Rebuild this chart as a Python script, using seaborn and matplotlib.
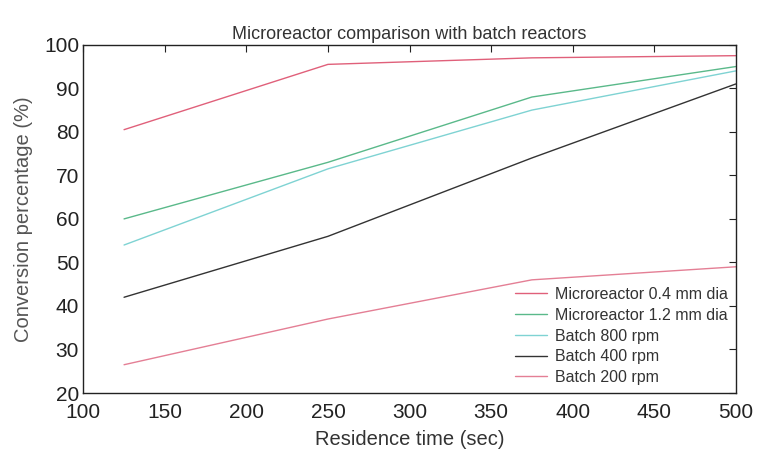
import pandas as pd
import matplotlib
matplotlib.use("Agg")
import matplotlib.pyplot as plt
import seaborn as sns

# residence time (sec) and conversion (%)
residence_time = [125, 250, 375, 500]
micro_04 = [80.5, 95.5, 97.0, 97.5]
micro_12 = [60.0, 73.0, 88.0, 95.0]
batch_800 = [54.0, 71.5, 85.0, 94.0]
batch_400 = [42.0, 56.0, 74.0, 91.0]
batch_200 = [26.5, 37.0, 46.0, 49.0]

series_names = ["Microreactor 0.4 mm dia", "Microreactor 1.2 mm dia",
                "Batch 800 rpm", "Batch 400 rpm", "Batch 200 rpm"]
colors = ["#e0607a", "#5ab98a", "#7fd3d3", "#333333", "#e47f95"]

sns.set_style("white")
plt.rcParams['font.family'] = ['Liberation Sans', 'DejaVu Sans']

rows = []
for name, vals in zip(series_names,
                      [micro_04, micro_12, batch_800, batch_400, batch_200]):
    for t, v in zip(residence_time, vals):
        rows.append({"time": t, "conv": v, "series": name})
df = pd.DataFrame(rows)

fig = plt.figure(figsize=(7.57, 4.57), dpi=100)
ax = fig.add_axes([0.110, 0.140, 0.862, 0.762])

sns.lineplot(data=df, x="time", y="conv", hue="series", hue_order=series_names,
             palette=colors, linewidth=1.0, ax=ax, legend=True)

ax.set_xlim(100, 500)
ax.set_ylim(20, 100)
ax.set_xticks(range(100, 501, 50))
ax.set_yticks(range(20, 101, 10))
ax.tick_params(direction="in", top=True, right=True, length=5, width=0.8,
               labelsize=15, colors="#222222")
ax.tick_params(axis="x", pad=7)
ax.tick_params(axis="y", pad=3)
for sp in ax.spines.values():
    sp.set_color("#222222")
    sp.set_linewidth(1.0)

ax.set_xlabel("Residence time (sec)", fontsize=14.5, color="#333333", labelpad=6)
ax.set_ylabel("Conversion percentage (%)", fontsize=14.5, color="#555555", labelpad=8)
ax.set_title("Microreactor comparison with batch reactors", fontsize=13,
             color="#333333", pad=4)

leg = ax.legend(loc="lower right", frameon=False, fontsize=11.5, handlelength=2.0,
                labelspacing=0.36, borderaxespad=0.1, handletextpad=0.5)
for txt in leg.get_texts():
    txt.set_color("#333333")

fig.savefig("out.png", dpi=100)
